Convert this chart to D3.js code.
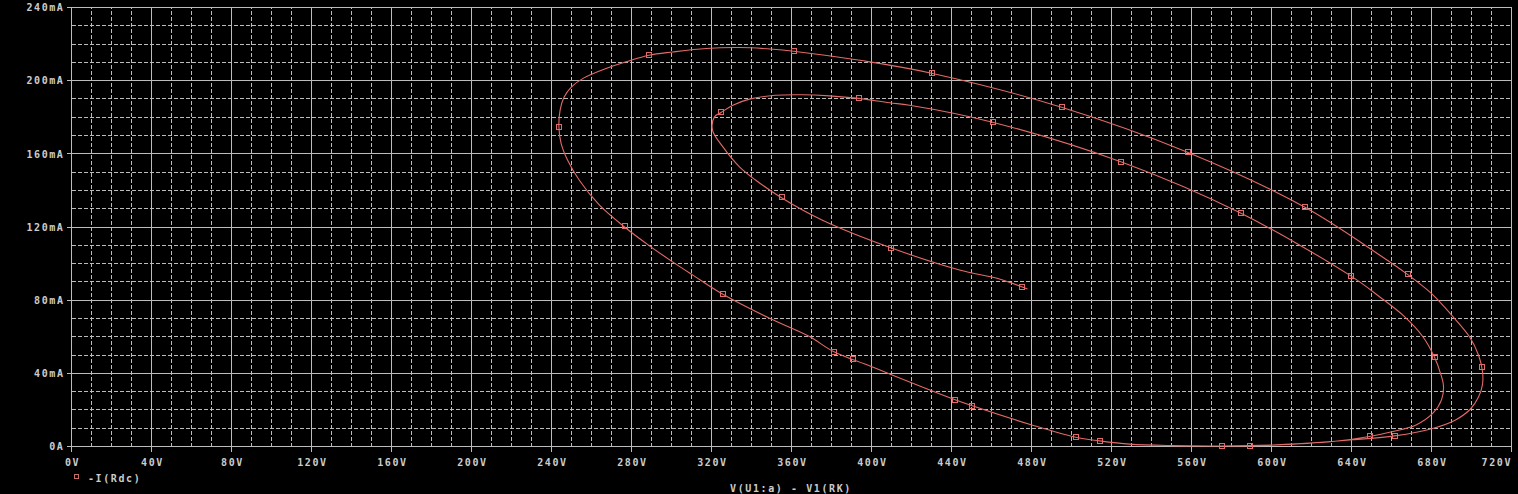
<!DOCTYPE html>
<html>
<head>
<meta charset="utf-8">
<script src="https://cdn.jsdelivr.net/npm/d3@7"></script>
<style>
html,body{margin:0;padding:0;background:#000;}
svg{display:block;}
text{font-family:"DejaVu Sans Mono",monospace;font-weight:bold;font-size:10px;letter-spacing:1.6px;fill:#cccccc;}
</style>
</head>
<body>
<script>
// ---- data ----
const xTickValues = [0,40,80,120,160,200,240,280,320,360,400,440,480,520,560,600,640,680,720];
const xTickLabels = ["0V","40V","80V","120V","160V","200V","240V","280V","320V","360V","400V","440V","480V","520V","560V","600V","640V","680V","720V"];
const yTickValues = [0,40,80,120,160,200,240];
const yTickLabels = ["0A","40mA","80mA","120mA","160mA","200mA","240mA"];
const seriesName = "-I(Rdc)";
const xTitle = "V(U1:a) - V1(RK)";
// trace: voltage (V)
const traceV = [478,464,444,410,375.5,355,342,334,325.7,320.5,321.5,324.8,330.7,339,352,365,379,393.7,409,419,460.5,525,584.5,640,654,666.5,675.7,681.5,684.5,686,685,680.7,672.3,660.7,649,630.7,614,597,575,550,529,514,502,479.8,450,439.8,399.8,381,369,349,325.7,310.7,299.8,289,276.5,264,254,248,244.8,243.7,244.3,246.2,250,256,267.3,277.3,288.7,300.7,317.3,334,350.7,361,395,430,495,558,616.5,654,668,679.8,690.7,699,703.5,705.5,705.5,703.5,699.5,692,681,661.5,640.7,620.7,600,575,550,529,514,502,479.8,450];
// trace: current (mA)
const traceI = [86.1,91.6,96.5,108.5,123.7,136,145.7,152.9,163.8,173,180.2,182.6,186.6,189.9,192,192.3,191.7,190.3,187.9,186.6,177.3,155.5,127.6,93,81.9,71,60,48.8,40,33,25.5,18.2,11.8,8.2,5.5,2.7,1.5,0.6,0.3,0.5,1.3,3.1,5.1,11.9,22.4,26.4,43.7,51.9,60.1,70.1,83.2,93.7,101.5,109.7,120.0,131.9,145.4,156.6,165.7,174.8,183.9,190.8,196.6,201.4,206.7,210.3,213.9,215.7,217.6,218.1,217.2,216.1,211,204.1,185.5,160.9,130.9,104.7,94.1,83.8,71,60,50,41,34,27,20.5,14.5,10,5.8,3.7,2,0.8,0.3,0.5,1.3,3.1,5.1,11.9,22.4];
// marker positions
const markerV = [475,410,355,324.8,393.7,460.5,525,584.5,640,681.5,649,589,575.2,514,502,450,441.5,390.7,381,325.7,276.5,243.7,288.7,361,430,495,558,616.5,668,705.3,661.5];
const markerI = [87.4,108.5,136.2,182.6,190.3,177.3,155.5,127.6,93,48.8,5.5,0.5,0.5,3.1,5.1,22.4,25.5,47.7,51.9,83.2,120.7,174.8,213.9,216.1,204.1,185.5,160.9,130.9,94.1,43.4,5.8];

const W = 1518, H = 494;
const traceColor = "#e26a68";
const gridColor = "#bcbcbc";

const svg = d3.select("body").append("svg").attr("width", W).attr("height", H);
const x = d3.scaleLinear().domain([0,720]).range([71.5,1511.5]);
const y = d3.scaleLinear().domain([0,240]).range([446.5,7.5]);

// minor grid (dashed)
const minorX = d3.range(0,721,10).filter(v => v % 40 !== 0);
const minorY = d3.range(0,241,10).filter(v => v % 40 !== 0);
const g = svg.append("g").attr("shape-rendering","crispEdges");
g.selectAll(".mx").data(minorX).join("line")
  .attr("x1", d=>x(d)).attr("x2", d=>x(d)).attr("y1", y(0)).attr("y2", y(240))
  .attr("stroke", gridColor).attr("stroke-dasharray","4,2");
g.selectAll(".my").data(minorY).join("line")
  .attr("y1", d=>y(d)).attr("y2", d=>y(d)).attr("x1", x(0)).attr("x2", x(720))
  .attr("stroke", gridColor).attr("stroke-dasharray","4,2");
// major grid (solid)
g.selectAll(".Mx").data(xTickValues).join("line")
  .attr("x1", d=>x(d)).attr("x2", d=>x(d)).attr("y1", y(0)+5).attr("y2", y(240))
  .attr("stroke", gridColor);
g.selectAll(".My").data(yTickValues).join("line")
  .attr("y1", d=>y(d)).attr("y2", d=>y(d)).attr("x1", x(0)-5).attr("x2", x(720))
  .attr("stroke", gridColor);

// tick labels
const last = xTickValues.length - 1;
svg.selectAll(".xl").data(xTickValues).join("text")
  .attr("x", (d,i)=> i === last ? x(d) + 0.5 : x(d)+1)
  .attr("y", 465.5)
  .attr("text-anchor", (d,i)=> i === last ? "end" : "middle")
  .text((d,i)=>xTickLabels[i]);
svg.selectAll(".yl").data(yTickValues).join("text")
  .attr("x", 64.5).attr("y", d=>y(d)+3.8).attr("text-anchor","end")
  .text((d,i)=>yTickLabels[i]);

// trace
const pts = traceV.map((v,i)=>[v, traceI[i]]);
svg.append("path").datum(pts)
  .attr("d", d3.line().x(d=>x(d[0])).y(d=>y(d[1])).curve(d3.curveCatmullRom.alpha(0.5)))
  .attr("fill","none").attr("stroke",traceColor).attr("stroke-width",1.1);

// markers
const mk = markerV.map((v,i)=>[v, markerI[i]]);
svg.selectAll(".mk").data(mk).join("rect")
  .attr("x", d=>Math.round(x(d[0]))-3+0.5).attr("y", d=>Math.round(y(d[1]))-3+0.5)
  .attr("width",5).attr("height",5)
  .attr("fill","none").attr("stroke",traceColor).attr("stroke-width",1);

// legend
svg.append("rect").attr("x",74.5).attr("y",474.5).attr("width",4).attr("height",4)
  .attr("fill","none").attr("stroke","#c86a6a").attr("stroke-width",1);
svg.append("text").attr("x",88).attr("y",482).text(seriesName);

// x title
svg.append("text").attr("x",791).attr("y",491.5).attr("text-anchor","middle").text(xTitle);
</script>
</body>
</html>
